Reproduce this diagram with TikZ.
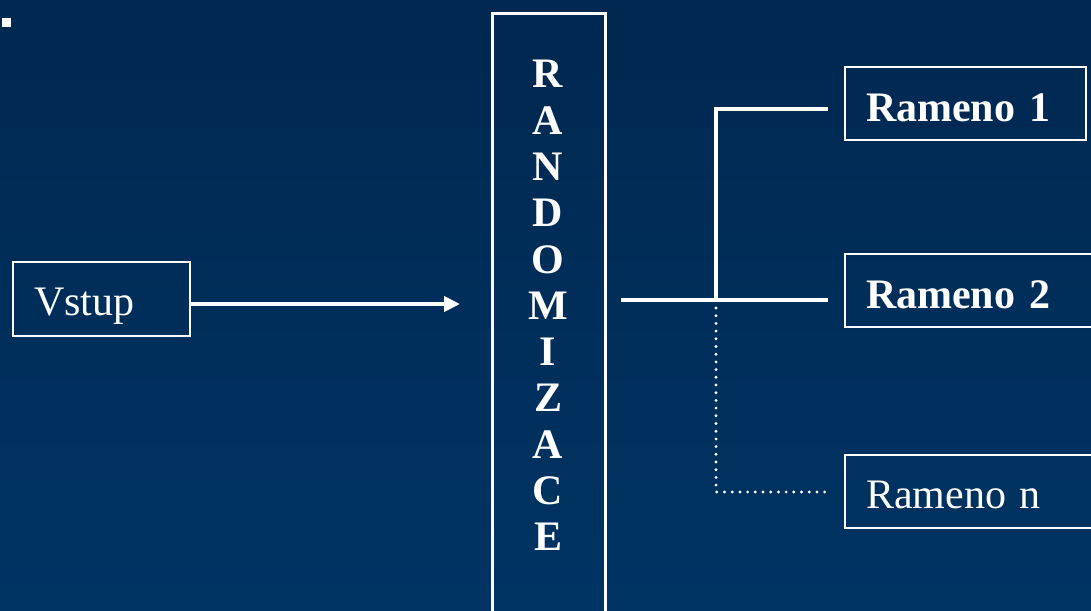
\documentclass[tikz,border=0pt]{standalone}
\usepackage{fontspec}
\setmainfont{Liberation Serif}
\usetikzlibrary{arrows.meta,calc}
\definecolor{bgtop}{RGB}{0,40,80}
\definecolor{bgbot}{RGB}{0,52,100}
\begin{document}
\begin{tikzpicture}[x=1pt,y=-1pt,
  bigfont/.style={font=\fontsize{42}{46.3}\selectfont},
  bigbold/.style={font=\fontsize{42}{46.3}\selectfont\bfseries},
  armbox/.style={draw=white, line width=2pt, text=white, bigfont,
    anchor=north west, inner ysep=0pt, inner xsep=21pt, align=left},
  link/.style={draw=white, line width=4pt},
  dotlink/.style={draw=white, line width=3.2pt, line cap=round,
    dash pattern=on 0pt off 7.7pt}]
  % page and background
  \useasboundingbox (0,0) rectangle (1091,610);
  \clip (0,0) rectangle (1091,610);
  \shade[top color=bgtop, bottom color=bgbot] (0,0) rectangle (1091,610);
  % slide bullet
  \fill[white] (2,18) rectangle (11,27);

  % input box
  \node[armbox, minimum width=177pt, minimum height=74pt, text width=135pt,
        text height=53pt, text depth=21pt] (vstup) at (12,261) {Vstup};

  % randomisation column
  \node[draw=white, line width=3pt, anchor=north west, inner sep=0pt,
        minimum width=113pt, minimum height=620pt] (rand) at (491,12) {};
  \node[text=white, bigbold, align=center, inner sep=0pt]
        (randtext) at (548,305.6) {R\\A\\N\\D\\O\\M\\I\\Z\\A\\C\\E};

  % arms
  \node[armbox, bigbold, minimum width=241pt, minimum height=73pt,
        text width=199pt, text height=54pt, text depth=19pt]
        (r1) at (844,66) {Rameno 1};
  \node[armbox, bigbold, minimum width=260pt, minimum height=73pt,
        text width=218pt, text height=54pt, text depth=19pt]
        (r2) at (844,253) {Rameno 2};
  \node[armbox, minimum width=260pt, minimum height=73pt,
        text width=218pt, text height=53pt, text depth=20pt]
        (rn) at (844,454) {Rameno n};

  % connector points
  \coordinate (start) at (621,300);
  \coordinate (split) at (716,300);
  \coordinate (end1) at (828,109);
  \coordinate (end2) at (828,300);
  \coordinate (endn) at (830,492);

  % input arrow
  \draw[link, -{Triangle[length=16pt,width=15pt]}]
    ($(vstup.east)+(0,5)$) -- ($(rand.west |- vstup.east)+(-31,5)$);

  % branches
  \draw[link] (start) -- (end2);
  \draw[link] (split) |- (end1);
  \draw[dotlink] ($(split)+(0,8)$) |- (endn);
\end{tikzpicture}
\end{document}
